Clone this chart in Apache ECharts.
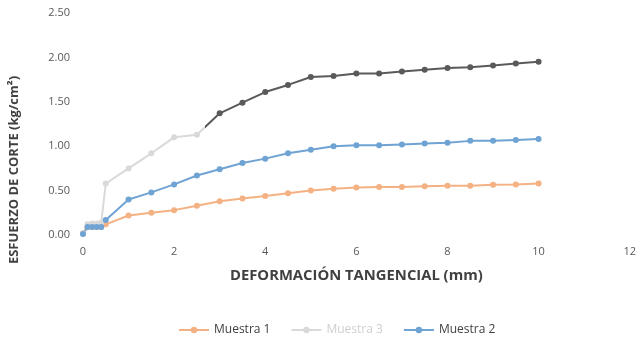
<!DOCTYPE html>
<html><head><meta charset="utf-8">
<script src="https://cdn.jsdelivr.net/npm/echarts@6/dist/echarts.min.js"></script>
<style>html,body{margin:0;padding:0;background:#fff}#c{width:639px;height:345px}</style>
</head><body><div id="c"></div>
<script>
var xValues = [0, 0.1, 0.2, 0.3, 0.4, 0.5, 1, 1.5, 2, 2.5, 3, 3.5, 4, 4.5, 5, 5.5, 6, 6.5, 7, 7.5, 8, 8.5, 9, 9.5, 10];
var muestra1 = [0.02, 0.09, 0.09, 0.09, 0.09, 0.12, 0.22, 0.25, 0.28, 0.33, 0.38, 0.41, 0.44, 0.47, 0.50, 0.52, 0.535, 0.54, 0.54, 0.55, 0.555, 0.555, 0.565, 0.57, 0.58];
var muestra3 = [0.02, 0.12, 0.13, 0.13, 0.14, 0.58, 0.75, 0.92, 1.10, 1.13, 1.37, 1.49, 1.61, 1.69, 1.78, 1.79, 1.82, 1.82, 1.84, 1.86, 1.88, 1.89, 1.91, 1.93, 1.95];
var muestra2 = [0.01, 0.09, 0.09, 0.09, 0.09, 0.17, 0.40, 0.48, 0.57, 0.67, 0.74, 0.81, 0.86, 0.92, 0.96, 1.00, 1.01, 1.01, 1.02, 1.03, 1.04, 1.06, 1.06, 1.07, 1.08];
var seriesNames = ['Muestra 1', 'Muestra 3', 'Muestra 2'];
var darkFrom = 2.7; // Muestra 3 drawn dark from this deformation on
var xTitle = 'DEFORMACIÓN TANGENCIAL (mm)';
var yTitle = 'ESFUERZO DE CORTE (kg/cm²)';

function pairs(ys){ return xValues.map(function(x,i){ return [x, ys[i]]; }); }
var font = '"Open Sans", Lato, sans-serif';
var light = '#d9d9d9', dark = '#5a5a5a';
var xMin = Math.min.apply(null, xValues), xMax = Math.max.apply(null, xValues);
var f = (darkFrom - xMin) / (xMax - xMin);
var grad = { type: 'linear', x: 0, y: 0, x2: 1, y2: 0, global: false,
  colorStops: [{offset:0,color:light},{offset:f,color:light},{offset:f,color:dark},{offset:1,color:dark}] };

var chart = echarts.init(document.getElementById('c'));
function mk(name, ys, color, lineColor, itemColor){
  return { name: name, type: 'line', data: pairs(ys), symbol: 'circle', symbolSize: 6,
    lineStyle: { width: 2, color: lineColor || color }, itemStyle: { color: itemColor || color }, animation: false };
}
chart.setOption({
  animation: false,
  grid: { left: 83, right: 7, top: 13, bottom: 110, containLabel: false },
  xAxis: { type: 'value', min: 0, max: 12, interval: 2,
    axisLine: { show: false }, axisTick: { show: false }, splitLine: { show: false },
    axisLabel: { color: '#595959', fontSize: 11, fontFamily: font, margin: 11 },
    name: xTitle, nameLocation: 'middle', nameGap: 33,
    nameTextStyle: { color: '#404040', fontSize: 14.8, fontWeight: 'bold', fontFamily: font } },
  yAxis: { type: 'value', min: 0, max: 2.5, interval: 0.5,
    axisLine: { show: false }, axisTick: { show: false }, splitLine: { show: false },
    axisLabel: { color: '#595959', fontSize: 11, fontFamily: font, margin: 13, formatter: function(v){ return v.toFixed(2); } },
    name: yTitle, nameLocation: 'middle', nameGap: 62, nameRotate: 90,
    nameTextStyle: { color: '#404040', fontSize: 13, fontWeight: 'bold', fontFamily: font, padding: [0, 92, 0, 0] } },
  legend: { bottom: 4, left: 173, itemWidth: 30, itemHeight: 8, itemGap: 20,
    textStyle: { color: '#404040', fontSize: 12, fontFamily: font },
    data: [{name:'Muestra 1'},
           {name:'Muestra 3', textStyle:{color:'#cfcfcf'}, itemStyle:{color:light}, lineStyle:{color:light}},
           {name:'Muestra 2'}] },
  series: [
    mk(seriesNames[0], muestra1, '#f4b183'),
    mk(seriesNames[1], muestra3, light, grad, function(p){ return p.value[0] < darkFrom ? light : dark; }),
    mk(seriesNames[2], muestra2, '#6fa3d3')
  ]
});
</script></body></html>
